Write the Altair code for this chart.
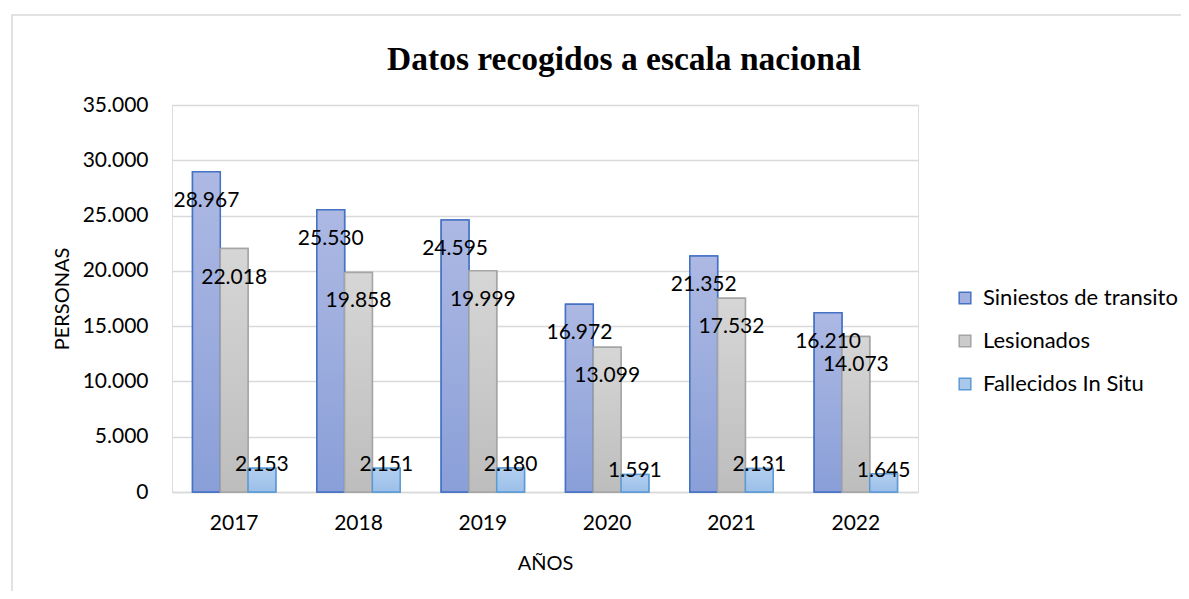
import altair as alt
import pandas as pd

years = ["2017", "2018", "2019", "2020", "2021", "2022"]
series_names = ["Siniestos de transito", "Lesionados", "Fallecidos In Situ"]
siniestros = [28967, 25530, 24595, 16972, 21352, 16210]
lesionados = [22018, 19858, 19999, 13099, 17532, 14073]
fallecidos = [2153, 2151, 2180, 1591, 2131, 1645]

rows = []
for name, vals in zip(series_names, [siniestros, lesionados, fallecidos]):
    for y, v in zip(years, vals):
        rows.append({"year": y, "series": name, "value": v,
                     "label": f"{v:,}".replace(",", ".")})
df = pd.DataFrame(rows)

solid = ["#a2b1df", "#cbcbcb", "#a9c8ec"]
strokes = ["#4472c4", "#a5a5a5", "#5b9bd5"]
grads = [("#adb9e3", "#8a9fd8"), ("#d6d6d6", "#bdbdbd"), ("#b3cff0", "#9bbfe8")]

FONT = "Lato"

x_enc = alt.X("year:N", sort=years, title="AÑOS",
              scale=alt.Scale(paddingInner=0.33, paddingOuter=0.165),
              axis=alt.Axis(labelAngle=0, labelFontSize=21, labelFont=FONT, labelColor="#000000",
                            titleFontSize=20, titleFont=FONT, titleFontWeight="normal", titleColor="#000000",
                            ticks=False, domainColor="#d9d9d9", domainWidth=1.5,
                            labelPadding=20, titlePadding=20, grid=False))
xoff_enc = alt.XOffset("series:N", sort=series_names, scale=alt.Scale(domain=series_names))
y_enc = alt.Y("value:Q", title="PERSONAS",
              scale=alt.Scale(domain=[0, 35000]),
              axis=alt.Axis(values=[0, 5000, 10000, 15000, 20000, 25000, 30000, 35000],
                            labelExpr="replace(format(datum.value, ','), ',', '.')",
                            labelFontSize=21, labelFont=FONT, labelColor="#000000",
                            titleFontSize=20, titleFont=FONT, titleFontWeight="normal", titleColor="#000000",
                            ticks=False, domain=False, gridColor="#d9d9d9", gridWidth=1.5,
                            labelPadding=24, titlePadding=10))

base = alt.Chart(df)

frame = alt.Chart(pd.DataFrame({"k": [0]})).mark_rect(
    fill="transparent", stroke="#d9d9d9", strokeWidth=1.5
).encode(x=alt.value(-160), x2=alt.value(1030), y=alt.value(-90), y2=alt.value(520))

legend_bars = base.mark_bar(strokeWidth=1.5).encode(
    x=x_enc, xOffset=xoff_enc, y=y_enc,
    fill=alt.Fill("series:N", sort=series_names,
                  scale=alt.Scale(domain=series_names, range=solid),
                  legend=alt.Legend(title=None, orient="none", legendX=782, legendY=182,
                                    symbolType="square", symbolSize=135, symbolStrokeWidth=1.5,
                                    labelFontSize=22, labelFont=FONT, labelColor="#000000",
                                    labelLimit=0, rowPadding=21, labelOffset=7, padding=0)),
    stroke=alt.Stroke("series:N", sort=series_names,
                      scale=alt.Scale(domain=series_names, range=strokes), legend=None),
)

layers = [frame, legend_bars]
for name, (top, bot), st in zip(series_names, grads, strokes):
    layers.append(
        base.transform_filter(alt.datum.series == name).mark_bar(
            fill={"gradient": "linear", "x1": 0, "y1": 0, "x2": 0, "y2": 1,
                  "stops": [{"offset": 0, "color": top}, {"offset": 1, "color": bot}]},
            stroke=st, strokeWidth=1.5
        ).encode(x=x_enc, xOffset=xoff_enc, y=y_enc)
    )

for name, dy in zip(series_names, [29, 29, -3]):
    layers.append(
        base.transform_filter(alt.datum.series == name).mark_text(
            fontSize=21, font=FONT, color="#000000", baseline="middle", dy=dy
        ).encode(x=x_enc, xOffset=xoff_enc, y=y_enc, text="label:N")
    )

chart = alt.layer(*layers).properties(
    width=746, height=387,
    title=alt.TitleParams("Datos recogidos a escala nacional", font="Liberation Serif",
                          fontSize=33.5, fontWeight="bold", color="#000000",
                          anchor="middle", dx=79, offset=-63),
    autosize=alt.AutoSizeParams(type="none"),
    padding={"left": 164, "top": 97, "right": 263, "bottom": 99},
).configure_view(stroke=None).configure(background="white")

chart.save("out.html", embed_options={"renderer": "svg", "actions": False})
